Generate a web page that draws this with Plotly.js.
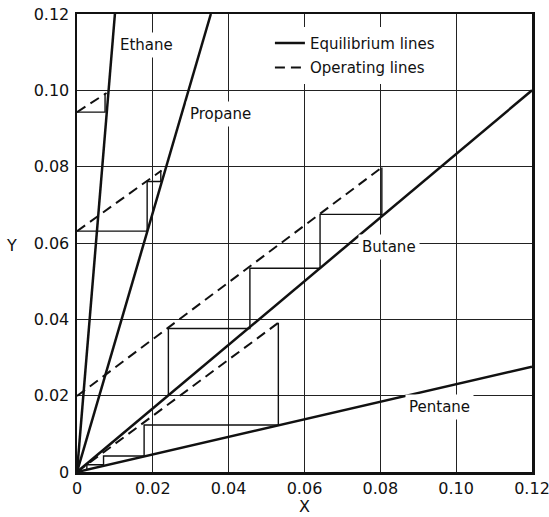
<!DOCTYPE html>
<html>
<head>
<meta charset="utf-8">
<script src="https://cdn.plot.ly/plotly-3.0.1.min.js"></script>
<style>html,body{margin:0;padding:0;background:#fff;}#chart{width:549px;height:517px;}</style>
</head>
<body>
<div id="chart"></div>
<script>
// Axis ticks
const tickVals = [0, 0.02, 0.04, 0.06, 0.08, 0.10, 0.12];
const tickText = ['0', '0.02', '0.04', '0.06', '0.08', '0.10', '0.12'];

// Equilibrium lines (solid)
const ethaneEqX = [0, 0.0100];
const ethaneEqY = [0, 0.120];
const propaneEqX = [0, 0.0353];
const propaneEqY = [0, 0.120];
const butaneEqX = [0, 0.120];
const butaneEqY = [0, 0.100];
const pentaneEqX = [0, 0.120];
const pentaneEqY = [0, 0.0276];

// Operating lines (dashed)
const ethaneOpX = [0, 0.0078];
const ethaneOpY = [0.0943, 0.0993];
const propaneOpX = [0, 0.0223];
const propaneOpY = [0.0631, 0.0790];
const butaneOpX = [0, 0.0804];
const butaneOpY = [0.0199, 0.0798];
const pentaneOpX = [0, 0.0531];
const pentaneOpY = [0, 0.0391];

// Stage steps (thin solid)
const ethaneStepX = [0, 0.0074, 0.0074];
const ethaneStepY = [0.0943, 0.0943, 0.0993];
const propaneStepX = [0, 0.0185, 0.0185, 0.0221, 0.0221];
const propaneStepY = [0.0631, 0.0631, 0.0761, 0.0761, 0.0790];
const butaneStepX = [0.0804, 0.0804, 0.0641, 0.0641, 0.0456, 0.0456, 0.0241, 0.0241];
const butaneStepY = [0.0798, 0.0675, 0.0675, 0.0534, 0.0534, 0.0376, 0.0376, 0.0199];
const pentaneStepX = [0.0531, 0.0531, 0.0177, 0.0177, 0.0070, 0.0070, 0.0026, 0.0026];
const pentaneStepY = [0.0391, 0.0123, 0.0123, 0.0042, 0.0042, 0.0019, 0.0019, 0.0006];

// Component labels
const labelNames = ['Ethane', 'Propane', 'Butane', 'Pentane'];
const labelX = [0.0182, 0.0378, 0.0823, 0.0957];
const labelY = [0.1120, 0.0938, 0.0589, 0.0170];

const INK = '#111';
const FONT = 'DejaVu Sans, sans-serif';

function eq(x, y, show) {
  return {x: x, y: y, type: 'scatter', mode: 'lines', name: 'Equilibrium lines',
    legendgroup: 'eq', showlegend: show, hoverinfo: 'skip',
    line: {color: INK, width: 2.5}};
}
function op(x, y, show) {
  return {x: x, y: y, type: 'scatter', mode: 'lines', name: 'Operating lines',
    legendgroup: 'op', showlegend: show, hoverinfo: 'skip',
    line: {color: INK, width: 2, dash: '10px,6px'}};
}
function step(x, y) {
  return {x: x, y: y, type: 'scatter', mode: 'lines', showlegend: false, hoverinfo: 'skip',
    line: {color: INK, width: 1.4}};
}

const data = [
  step(ethaneStepX, ethaneStepY),
  step(propaneStepX, propaneStepY),
  step(butaneStepX, butaneStepY),
  step(pentaneStepX, pentaneStepY),
  eq(ethaneEqX, ethaneEqY, true),
  eq(propaneEqX, propaneEqY, false),
  eq(butaneEqX, butaneEqY, false),
  eq(pentaneEqX, pentaneEqY, false),
  op(ethaneOpX, ethaneOpY, true),
  op(propaneOpX, propaneOpY, false),
  op(butaneOpX, butaneOpY, false),
  op(pentaneOpX, pentaneOpY, false)
];

const annotations = labelNames.map((t, i) => ({
  x: labelX[i], y: labelY[i], xref: 'x', yref: 'y', text: t, showarrow: false,
  font: {family: FONT, size: 15, color: INK}, bgcolor: '#fff', borderpad: 3,
  xanchor: 'center', yanchor: 'middle'
}));
// Axis titles (drawn upright as in the reference)
annotations.push({
  x: -0.143, y: 0.495, xref: 'paper', yref: 'paper', text: 'Y', showarrow: false,
  font: {family: FONT, size: 16, color: INK}, xanchor: 'center', yanchor: 'middle'
});
annotations.push({
  x: 0.501, y: -0.076, xref: 'paper', yref: 'paper', text: 'X', showarrow: false,
  font: {family: FONT, size: 16, color: INK}, xanchor: 'center', yanchor: 'middle'
});

const axisCommon = {
  range: [0, 0.1200001], tickvals: tickVals, ticktext: tickText,
  showgrid: true, gridcolor: '#222', gridwidth: 1,
  zeroline: false, showline: true, mirror: true, linecolor: INK, linewidth: 2.5,
  ticks: '', automargin: false, fixedrange: true, ticklabeloverflow: 'allow',
  tickfont: {family: FONT, size: 16, color: INK}
};

const layout = {
  width: 549, height: 517,
  margin: {l: 77, r: 17, t: 14, b: 45, pad: 0},
  paper_bgcolor: '#fff', plot_bgcolor: '#fff',
  showlegend: true,
  legend: {x: 0.424, y: 0.972, xanchor: 'left', yanchor: 'top', bgcolor: '#fff',
    borderwidth: 0, tracegroupgap: 2, font: {family: FONT, size: 15, color: INK}},
  xaxis: Object.assign({}, axisCommon, {ticklabelstandoff: 0}),
  yaxis: Object.assign({}, axisCommon, {ticklabelstandoff: 2}),
  annotations: annotations
};

Plotly.newPlot('chart', data, layout, {staticPlot: true, displayModeBar: false});
</script>
</body>
</html>
